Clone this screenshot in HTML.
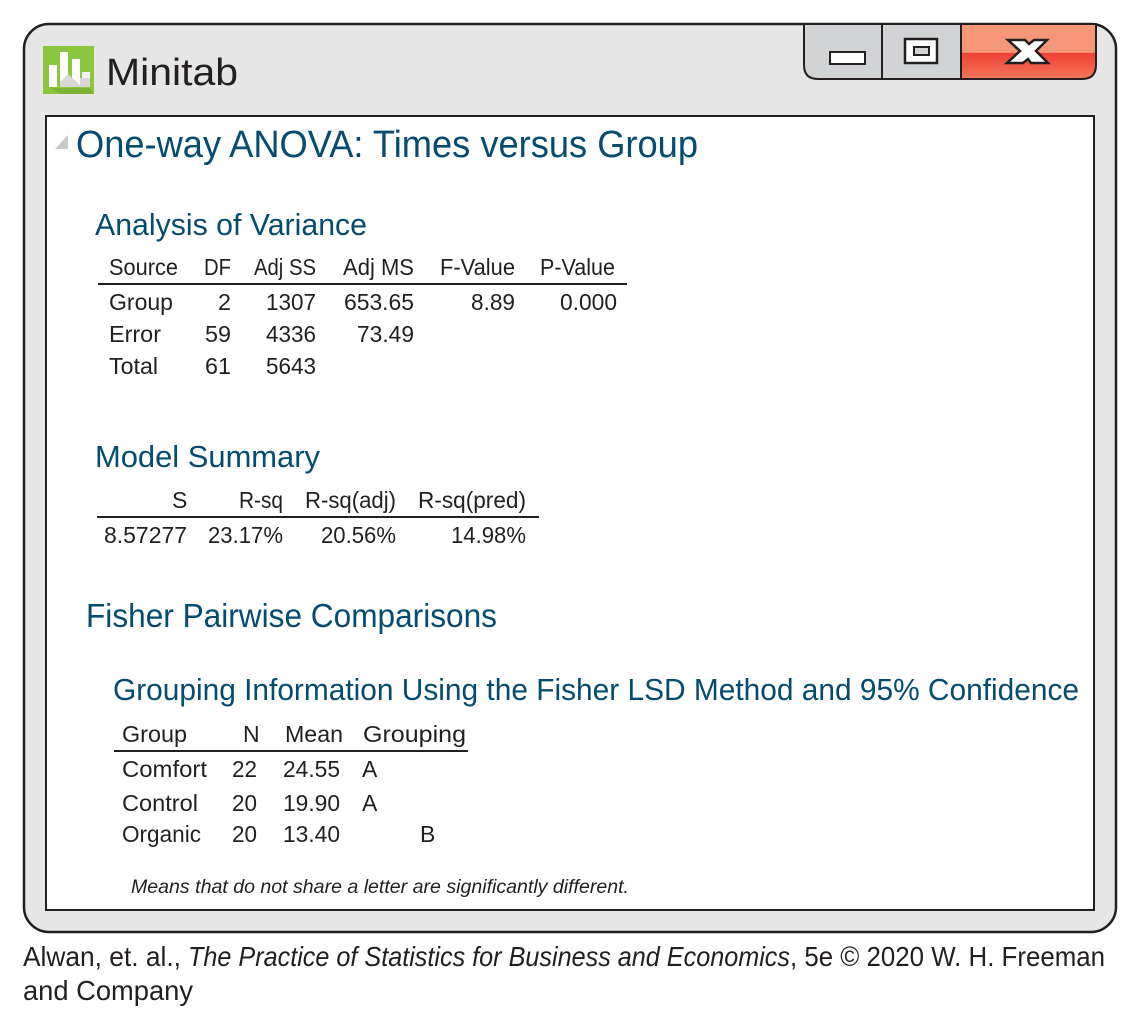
<!DOCTYPE html>
<html lang="en">
<head>
<meta charset="utf-8">
<title>Minitab One-way ANOVA: Times versus Group</title>
<style>
html,body{margin:0;padding:0;background:#fff;width:1140px;height:1031px;overflow:hidden}
svg{display:block;font-family:"Liberation Sans",sans-serif}
.h{fill:#064b70}
.t{font-size:23px;fill:#231f20}
.c{font-size:28px;fill:#231f20}
</style>
</head>
<body>
<svg width="1140" height="1031" viewBox="0 0 1140 1031">
<defs>
<linearGradient id="closeGrad" x1="0" y1="0" x2="0" y2="1">
<stop offset="0" stop-color="#f6977a"/><stop offset="0.52" stop-color="#f6977a"/><stop offset="0.53" stop-color="#ef4135"/><stop offset="1" stop-color="#f4775a"/>
</linearGradient>
</defs>

<rect x="24" y="24" width="1092" height="908" rx="25" fill="#e6e6e6" stroke="#231f20" stroke-width="2.5"/>

<g>
<rect x="43" y="46" width="51" height="48" fill="#8cc63f"/>
<path d="M49 87 L56 88 L90 88 L94 94 L60 94 Z" fill="#7cb236"/>
<rect x="49" y="65" width="8" height="22" fill="#fff"/>
<rect x="60" y="52" width="8" height="35" fill="#fff"/>
<rect x="72" y="59" width="8" height="28" fill="#fff"/>
<rect x="82" y="72" width="8" height="15" fill="#f1f2f2"/>
<path d="M60 87 L60 82 L68 74 L80 85 L80 78 L90 78 L90 87 Z" fill="#d8d9d6"/>
</g>
<text x="106" y="85" font-size="38" fill="#231f20" textLength="132" lengthAdjust="spacingAndGlyphs">Minitab</text>

<g>
<path d="M804 24 H882 V79 H818 Q804 79 804 65 Z" fill="#d1d3d4" stroke="#231f20" stroke-width="2"/>
<rect x="830" y="52" width="35" height="12" fill="#fff" stroke="#231f20" stroke-width="2"/>
<rect x="882" y="24" width="79" height="55" fill="#d1d3d4" stroke="#231f20" stroke-width="2"/>
<rect x="905" y="39" width="32" height="24" fill="#fff" stroke="#231f20" stroke-width="2.5"/>
<rect x="914" y="47" width="15" height="8" fill="#d1d3d4" stroke="#231f20" stroke-width="2"/>
<path d="M961 24 H1096 V65 Q1096 79 1082 79 H961 Z" fill="url(#closeGrad)" stroke="#231f20" stroke-width="2"/>
<path d="M1008 40 H1025 L1029 44 L1034 40 H1047 L1036 51 L1048 63 H1031 L1028 59 L1023 63 H1007 L1020 51 Z" fill="#fff" stroke="#231f20" stroke-width="2.5"/>
</g>

<rect x="46" y="116" width="1048" height="794" fill="#fff" stroke="#231f20" stroke-width="2"/>
<path d="M55 149 H68 V135 Z" fill="#c7c8ca"/>

<text class="h" x="76" y="157" font-size="38" textLength="622" lengthAdjust="spacingAndGlyphs">One-way ANOVA: Times versus Group</text>

<text class="h" x="95" y="235" font-size="31" textLength="272" lengthAdjust="spacingAndGlyphs">Analysis of Variance</text>
<g class="t">
<text x="109" y="275" textLength="69" lengthAdjust="spacingAndGlyphs">Source</text>
<text x="204" y="275" textLength="27" lengthAdjust="spacingAndGlyphs">DF</text>
<text x="254" y="275" textLength="62" lengthAdjust="spacingAndGlyphs">Adj SS</text>
<text x="343" y="275" textLength="71" lengthAdjust="spacingAndGlyphs">Adj MS</text>
<text x="440" y="275" textLength="75" lengthAdjust="spacingAndGlyphs">F-Value</text>
<text x="540" y="275" textLength="75" lengthAdjust="spacingAndGlyphs">P-Value</text>
<rect x="98" y="283" width="529" height="2" fill="#231f20"/>
<text x="109" y="310" textLength="64" lengthAdjust="spacingAndGlyphs">Group</text>
<text x="218" y="310" textLength="13" lengthAdjust="spacingAndGlyphs">2</text>
<text x="266" y="310" textLength="50" lengthAdjust="spacingAndGlyphs">1307</text>
<text x="344" y="310" textLength="70" lengthAdjust="spacingAndGlyphs">653.65</text>
<text x="471" y="310" textLength="44" lengthAdjust="spacingAndGlyphs">8.89</text>
<text x="560" y="310" textLength="57" lengthAdjust="spacingAndGlyphs">0.000</text>
<text x="109" y="342" textLength="52" lengthAdjust="spacingAndGlyphs">Error</text>
<text x="205" y="342" textLength="26" lengthAdjust="spacingAndGlyphs">59</text>
<text x="266" y="342" textLength="50" lengthAdjust="spacingAndGlyphs">4336</text>
<text x="357" y="342" textLength="57" lengthAdjust="spacingAndGlyphs">73.49</text>
<text x="109" y="374" textLength="49" lengthAdjust="spacingAndGlyphs">Total</text>
<text x="205" y="374" textLength="26" lengthAdjust="spacingAndGlyphs">61</text>
<text x="266" y="374" textLength="50" lengthAdjust="spacingAndGlyphs">5643</text>
</g>

<text class="h" x="95" y="467" font-size="31" textLength="225" lengthAdjust="spacingAndGlyphs">Model Summary</text>
<g class="t">
<text x="172" y="508">S</text>
<text x="239" y="508" textLength="44" lengthAdjust="spacingAndGlyphs">R-sq</text>
<text x="305" y="508" textLength="91" lengthAdjust="spacingAndGlyphs">R-sq(adj)</text>
<text x="418" y="508" textLength="108" lengthAdjust="spacingAndGlyphs">R-sq(pred)</text>
<rect x="97" y="516" width="442" height="2" fill="#231f20"/>
<text x="104" y="543" textLength="83" lengthAdjust="spacingAndGlyphs">8.57277</text>
<text x="208" y="543" textLength="75" lengthAdjust="spacingAndGlyphs">23.17%</text>
<text x="321" y="543" textLength="75" lengthAdjust="spacingAndGlyphs">20.56%</text>
<text x="451" y="543" textLength="75" lengthAdjust="spacingAndGlyphs">14.98%</text>
</g>

<text class="h" x="86" y="627" font-size="33" textLength="411" lengthAdjust="spacingAndGlyphs">Fisher Pairwise Comparisons</text>
<text class="h" x="113" y="700" font-size="31" textLength="966" lengthAdjust="spacingAndGlyphs">Grouping Information Using the Fisher LSD Method and 95% Confidence</text>
<g class="t">
<text x="122" y="742" textLength="65" lengthAdjust="spacingAndGlyphs">Group</text>
<text x="243" y="742">N</text>
<text x="285" y="742" textLength="58" lengthAdjust="spacingAndGlyphs">Mean</text>
<text x="363" y="742" textLength="103" lengthAdjust="spacingAndGlyphs">Grouping</text>
<rect x="114" y="750" width="354" height="2" fill="#231f20"/>
<text x="122" y="777" textLength="85" lengthAdjust="spacingAndGlyphs">Comfort</text>
<text x="232" y="777" textLength="25" lengthAdjust="spacingAndGlyphs">22</text>
<text x="283" y="777" textLength="57" lengthAdjust="spacingAndGlyphs">24.55</text>
<text x="362" y="777">A</text>
<text x="122" y="811" textLength="76" lengthAdjust="spacingAndGlyphs">Control</text>
<text x="232" y="811" textLength="25" lengthAdjust="spacingAndGlyphs">20</text>
<text x="283" y="811" textLength="57" lengthAdjust="spacingAndGlyphs">19.90</text>
<text x="362" y="811">A</text>
<text x="122" y="842" textLength="79" lengthAdjust="spacingAndGlyphs">Organic</text>
<text x="232" y="842" textLength="25" lengthAdjust="spacingAndGlyphs">20</text>
<text x="283" y="842" textLength="57" lengthAdjust="spacingAndGlyphs">13.40</text>
<text x="420" y="842">B</text>
</g>
<text x="131" y="893" font-size="19" font-style="italic" fill="#231f20" textLength="498" lengthAdjust="spacingAndGlyphs">Means that do not share a letter are significantly different.</text>

<g class="c">
<text x="23" y="966" textLength="158" lengthAdjust="spacingAndGlyphs">Alwan, et. al.,</text>
<text x="188" y="966" font-style="italic" textLength="602" lengthAdjust="spacingAndGlyphs">The Practice of Statistics for Business and Economics</text>
<text x="790" y="966" textLength="315" lengthAdjust="spacingAndGlyphs">, 5e © 2020 W. H. Freeman</text>
<text x="23" y="1000" textLength="170" lengthAdjust="spacingAndGlyphs">and Company</text>
</g>
</svg>
</body>
</html>
